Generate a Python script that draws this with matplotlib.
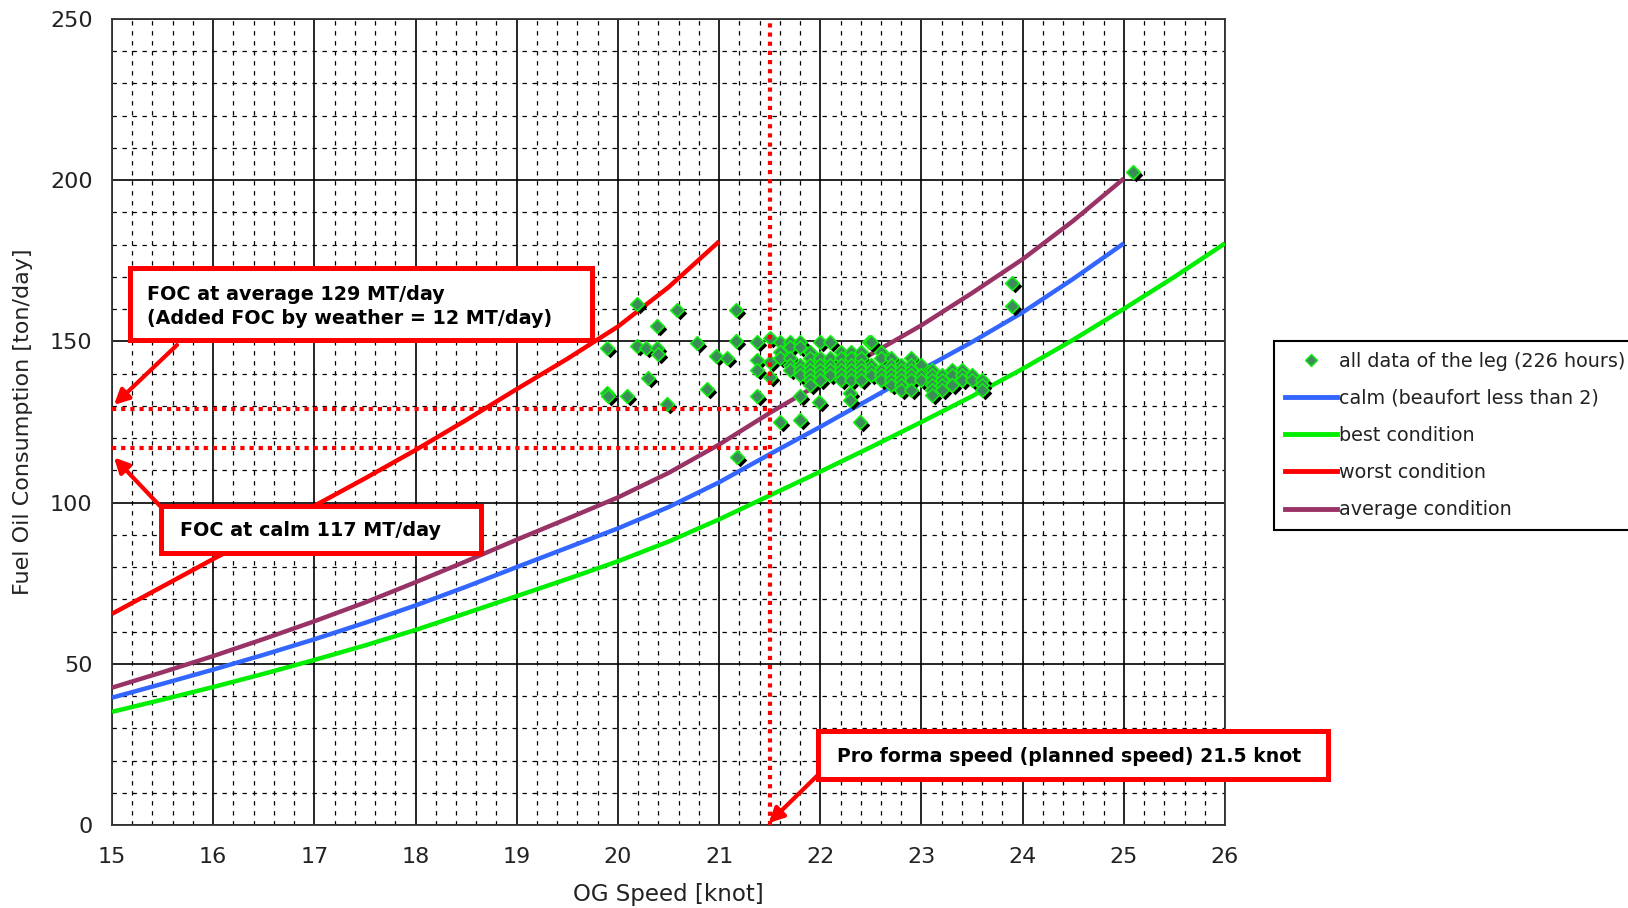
import matplotlib
matplotlib.use('Agg')
import matplotlib.pyplot as plt
import matplotlib.transforms as mtransforms
from matplotlib.patches import Rectangle
from matplotlib.lines import Line2D
from matplotlib.ticker import MultipleLocator

# ---------------- data ----------------
calm_speed = [15, 15.5, 16, 16.5, 17, 17.5, 18, 18.5, 19, 19.5, 20, 20.5, 21, 21.5,
              22, 22.5, 23, 23.5, 24, 24.5, 25]
calm_foc = [39.5, 43.8, 48.2, 52.8, 57.6, 62.7, 68.1, 73.9, 80.0, 86.0, 92.0, 98.6,
            106.3, 115.0, 123.5, 132.3, 141.2, 149.8, 159.0, 169.4, 180.4]

best_speed = [15, 15.5, 16, 16.5, 17, 17.5, 18, 18.5, 19, 19.5, 20, 20.5, 21, 21.5,
              22, 22.5, 23, 23.5, 24, 24.5, 25, 25.5, 26]
best_foc = [35.1, 38.9, 42.8, 46.9, 51.2, 55.7, 60.5, 65.7, 71.0, 76.3, 81.8, 87.9,
            94.8, 102.2, 109.6, 117.2, 125.0, 133.0, 141.5, 150.5, 160.1, 170.0, 180.4]

worst_speed = [15, 15.5, 16, 16.5, 17, 17.5, 18, 18.5, 19, 19.5, 20, 20.5, 21]
worst_foc = [65.5, 74.0, 82.5, 90.8, 99.0, 107.5, 116.3, 125.6, 135.2, 144.6, 154.6,
             166.8, 181.0]

avg_speed = [15, 15.5, 16, 16.5, 17, 17.5, 18, 18.5, 19, 19.5, 20, 20.5, 21, 21.5,
             22, 22.5, 23, 23.5, 24, 24.5, 25]
avg_foc = [42.6, 47.4, 52.4, 57.7, 63.2, 69.0, 75.3, 81.8, 88.5, 95.0, 101.6, 109.2,
           118.0, 127.8, 137.0, 146.0, 155.0, 165.0, 175.5, 187.4, 200.5]

scatter_speed = [
    20.19, 20.58, 21.17, 20.39, 19.89, 20.19, 20.28, 20.39, 20.40, 20.78,
    20.97, 21.08, 21.17, 21.37, 21.37, 21.37, 21.50, 21.50, 21.50, 20.30,
    20.88, 19.89, 19.90, 20.09, 20.49, 21.37, 21.60, 21.80, 22.39, 21.80,
    21.99, 22.29, 22.29, 22.48, 21.18, 23.89, 23.89, 25.09,
    21.6, 21.7, 21.8, 22.0, 22.1, 22.5,
    21.7, 21.8,
    21.6, 21.9, 22.2, 22.3, 22.4, 22.6,
    21.6, 21.7, 21.9, 22.0, 22.1, 22.2, 22.3, 22.4, 22.6, 22.7, 22.9,
    21.7, 21.8, 21.9, 22.0, 22.1, 22.2, 22.3, 22.4, 22.5, 22.7, 22.8, 22.9, 23.0,
    21.7, 21.8, 21.9, 22.0, 22.1, 22.2, 22.3, 22.4, 22.5, 22.6, 22.7, 22.8, 22.9, 23.1, 23.3, 23.4,
    21.8, 21.9, 22.0, 22.1, 22.2, 22.3, 22.4, 22.5, 22.6, 22.7, 22.8, 22.9, 23.0, 23.1, 23.2, 23.3, 23.4, 23.5,
    21.9, 22.0, 22.2, 22.3, 22.4, 22.6, 22.7, 22.8, 22.9, 23.0, 23.1, 23.2, 23.4, 23.5, 23.6,
    21.9, 22.7, 22.8, 23.1, 23.2, 23.3, 23.6,
    22.8, 22.9, 23.1, 23.2, 23.6,
    23.1,
]
scatter_foc = [
    161.6, 159.7, 159.7, 154.8, 147.9, 148.6, 147.9, 147.9, 146.0, 149.4,
    145.5, 144.7, 150.2, 149.9, 144.2, 141.1, 151.0, 143.7, 139.0, 138.5,
    135.1, 134.1, 133.0, 133.1, 130.6, 133.1, 125.1, 125.6, 125.1, 133.1,
    131.3, 133.9, 131.8, 149.9, 114.0, 168.0, 161.0, 202.5,
    149.9, 149.9, 149.9, 149.9, 149.9, 149.9,
    148.4, 148.4,
    146.8, 146.8, 146.8, 146.8, 146.8, 146.8,
    144.8, 144.8, 144.8, 144.8, 144.8, 144.8, 144.8, 144.8, 144.8, 144.8, 144.8,
    142.7, 142.7, 142.7, 142.7, 142.7, 142.7, 142.7, 142.7, 142.7, 142.7, 142.7, 142.7, 142.7,
    141.2, 141.2, 141.2, 141.2, 141.2, 141.2, 141.2, 141.2, 141.2, 141.2, 141.2, 141.2, 141.2, 141.2, 141.2, 141.2,
    139.6, 139.6, 139.6, 139.6, 139.6, 139.6, 139.6, 139.6, 139.6, 139.6, 139.6, 139.6, 139.6, 139.6, 139.6, 139.6, 139.6, 139.6,
    138.1, 138.1, 138.1, 138.1, 138.1, 138.1, 138.1, 138.1, 138.1, 138.1, 138.1, 138.1, 138.1, 138.1, 138.1,
    136.5, 136.5, 136.5, 136.5, 136.5, 136.5, 136.5,
    135.0, 135.0, 135.0, 135.0, 135.0,
    133.4,
]

pro_forma_speed = 21.5
foc_average = 129
foc_calm = 117

x_ticks = [15, 16, 17, 18, 19, 20, 21, 22, 23, 24, 25, 26]
y_ticks = [0, 50, 100, 150, 200, 250]

legend_labels = ["all data of the leg (226 hours)", "calm (beaufort less than 2)",
                 "best condition", "worst condition", "average condition"]
box1_text = "FOC at average 129 MT/day\n(Added FOC by weather = 12 MT/day)"
box2_text = "FOC at calm 117 MT/day"
box3_text = "Pro forma speed (planned speed) 21.5 knot"

# ---------------- figure ----------------
W, H = 1628, 908
fig = plt.figure(figsize=(W / 100, H / 100), dpi=100)
fig.patch.set_facecolor('white')


def fx(px):
    return px / W


def fy(py):
    return 1 - py / H


ax = fig.add_axes([fx(112), fy(825), fx(1225) - fx(112), fy(19) - fy(825)])
ax.set_xlim(15, 26)
ax.set_ylim(0, 250)
ax.set_xticks(x_ticks)
ax.set_yticks(y_ticks)
ax.xaxis.set_minor_locator(MultipleLocator(0.2))
ax.yaxis.set_minor_locator(MultipleLocator(10))
ax.tick_params(which='both', length=0)
ax.tick_params(axis='x', pad=16, labelsize=16, labelcolor='#222222')
ax.tick_params(axis='y', pad=14, labelsize=16, labelcolor='#222222')
ax.grid(which='major', color='black', linewidth=1.2, linestyle='-', zorder=0)
ax.grid(which='minor', color='black', linewidth=0.9, linestyle=(0, (3.5, 4.5)), zorder=0)
ax.set_axisbelow(True)
for sp in ax.spines.values():
    sp.set_linewidth(1.3)
    sp.set_color('#333333')

ax.set_xlabel("OG Speed [knot]", fontsize=16.5, color='#222222', labelpad=11)
ax.set_ylabel("Fuel Oil Consumption [ton/day]", fontsize=16, color='#222222', labelpad=12)

c_calm = '#3366ff'
c_best = '#00ee00'
c_worst = '#ff0000'
c_avg = '#993366'

ax.plot(calm_speed, calm_foc, color=c_calm, lw=3.2, zorder=3, solid_capstyle='butt')
ax.plot(best_speed, best_foc, color=c_best, lw=3.2, zorder=3, solid_capstyle='butt')
ax.plot(worst_speed, worst_foc, color=c_worst, lw=3.2, zorder=3, solid_capstyle='butt')
ax.plot(avg_speed, avg_foc, color=c_avg, lw=3.2, zorder=3, solid_capstyle='butt')

off = mtransforms.offset_copy(ax.transData, fig=fig, x=3, y=-3, units='dots')
ax.scatter(scatter_speed, scatter_foc, marker='D', s=48, color='black',
           linewidths=0, transform=off, zorder=5)
ax.scatter(scatter_speed, scatter_foc, marker='D', s=48, facecolor='#3c8c5a',
           edgecolor='#11ee11', linewidths=1.2, zorder=6)

dot = (0, (1, 1.2))
ax.plot([15, pro_forma_speed], [foc_average, foc_average], color='red', lw=3,
        linestyle=dot, dash_capstyle='butt', zorder=7)
ax.plot([15, pro_forma_speed], [foc_calm, foc_calm], color='red', lw=3,
        linestyle=dot, dash_capstyle='butt', zorder=7)
ax.plot([pro_forma_speed, pro_forma_speed], [0, 250], color='red', lw=3,
        linestyle=dot, dash_capstyle='butt', zorder=7)

# legend
handles = [
    Line2D([], [], marker='D', markersize=6, color='none', markerfacecolor='#3c8c5a',
           markeredgecolor='#11ee11', markeredgewidth=1),
    Line2D([], [], color=c_calm, lw=3.5),
    Line2D([], [], color=c_best, lw=3.5),
    Line2D([], [], color=c_worst, lw=3.5),
    Line2D([], [], color=c_avg, lw=3.5),
]
leg = fig.legend(handles, legend_labels, loc='upper left',
                 bbox_to_anchor=(fx(1274), fy(341)), bbox_transform=fig.transFigure,
                 fontsize=13.8, frameon=True, fancybox=False, framealpha=1,
                 edgecolor='black', handlelength=2.75, handletextpad=0.1,
                 labelspacing=0.95, borderpad=0.55, borderaxespad=0)
leg.get_frame().set_linewidth(1.5)
for t in leg.get_texts():
    t.set_color('#222222')

# annotation boxes
def box(x0, y0, x1, y1):
    r = Rectangle((fx(x0), fy(y1)), fx(x1) - fx(x0), fy(y0) - fy(y1),
                  transform=fig.transFigure, facecolor='white', edgecolor='red',
                  linewidth=3.6, zorder=10)
    fig.patches.append(r)


box(130, 268, 592, 340)
fig.text(fx(147), fy(306.5), box1_text, fontsize=13.8, fontweight='bold',
         va='center', ha='left', linespacing=1.37, zorder=11)
box(161, 506, 481, 553)
fig.text(fx(180), fy(531), box2_text, fontsize=13.8, fontweight='bold',
         va='center', ha='left', zorder=11)
box(818, 731, 1328, 779)
fig.text(fx(837), fy(756), box3_text, fontsize=13.6, fontweight='bold',
         va='center', ha='left', zorder=11)

arrow = dict(arrowstyle='-|>', color='red', lw=3, mutation_scale=22,
             shrinkA=0, shrinkB=0)
ax.annotate('', xy=(15.02, 130.3), xycoords='data',
            xytext=(177, H - 345), textcoords='figure pixels', arrowprops=arrow,
            zorder=12, annotation_clip=False)
ax.annotate('', xy=(15.02, 114.0), xycoords='data',
            xytext=(161, H - 507), textcoords='figure pixels', arrowprops=arrow,
            zorder=12, annotation_clip=False)
ax.annotate('', xy=(21.49, 0.6), xycoords='data',
            xytext=(821, H - 772), textcoords='figure pixels', arrowprops=arrow,
            zorder=12, annotation_clip=False)

fig.savefig('out.png', dpi=100)
